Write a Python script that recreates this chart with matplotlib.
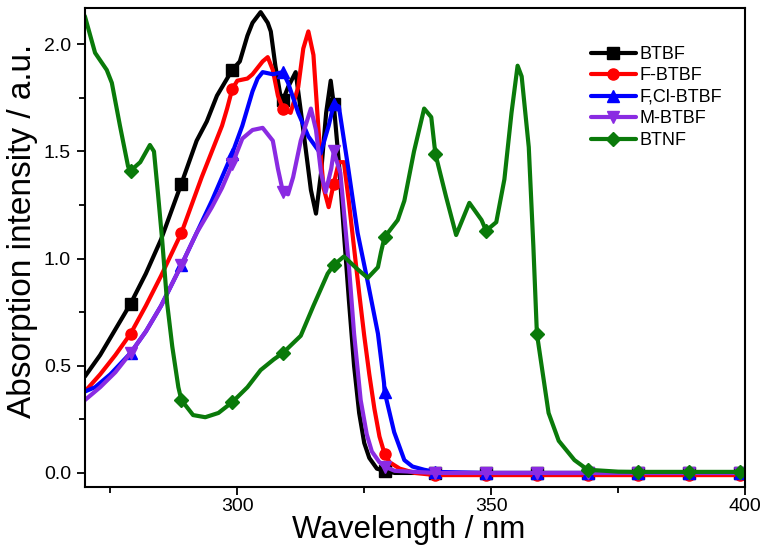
import numpy as np
import matplotlib.pyplot as plt

plt.rcParams['font.family'] = ['Liberation Sans', 'DejaVu Sans']

# wavelengths where the markers sit
marker_wl = [279, 289, 299, 309, 319, 329, 339, 349, 359, 369, 379, 389, 399]

# BTBF
btbf_wl = [270, 273, 276, 279, 282, 285, 289, 292, 294, 296, 299, 300.5, 302, 303, 304.6, 306, 306.6,
           307.5, 308.5, 309, 310, 311.5, 313, 314.5, 315.5, 316.5, 317.5, 318.4, 319, 320, 321, 322,
           323, 324, 325, 326, 327.5, 329, 331, 339, 349, 359, 369, 379, 389, 399, 400]
btbf_abs = [0.45, 0.55, 0.67, 0.79, 0.93, 1.09, 1.35, 1.55, 1.64, 1.76, 1.88, 1.92, 2.04, 2.10, 2.15, 2.10, 2.06,
            1.90, 1.76, 1.74, 1.80, 1.87, 1.60, 1.32, 1.21, 1.40, 1.68, 1.83, 1.72, 1.45, 1.12, 0.80,
            0.50, 0.28, 0.14, 0.07, 0.02, 0.01, 0.0, 0.0, 0.0, 0.0, 0.0, 0.0, 0.0, 0.0, 0.0]

# F-BTBF
fbtbf_wl = [270, 273, 276, 279, 282, 285, 289, 291, 293, 295, 297, 298, 299, 300, 302, 303, 305, 306,
            307, 308, 309, 310.5, 312, 313, 314, 315, 316, 317, 318, 319, 320, 321, 322, 323, 324,
            325, 326, 327, 328, 329, 330, 332, 335, 339, 349, 359, 369, 379, 389, 399, 400]
fbtbf_abs = [0.38, 0.46, 0.55, 0.65, 0.78, 0.92, 1.12, 1.25, 1.38, 1.50, 1.62, 1.70, 1.79, 1.83, 1.84, 1.86, 1.92, 1.94,
             1.88, 1.76, 1.70, 1.68, 1.80, 1.98, 2.06, 1.95, 1.60, 1.33, 1.24, 1.35, 1.45, 1.45, 1.26, 1.05, 0.84,
             0.64, 0.46, 0.30, 0.17, 0.09, 0.05, 0.02, 0.0, -0.01, -0.01, -0.01, -0.01, -0.01, -0.01, -0.01, -0.01]

# F,Cl-BTBF
fcl_wl = [270, 272, 275, 279, 282, 285, 289, 292, 295, 299, 301, 303, 304, 305, 307, 309, 310, 312,
          314, 316.4, 318, 319, 320, 321.8, 323.7, 325.7, 327.7, 328.9, 329, 330.9, 332.9, 334.5, 336.8,
          339, 349, 359, 369, 379, 389, 399, 400]
fcl_abs = [0.38, 0.40, 0.46, 0.56, 0.66, 0.78, 0.97, 1.12, 1.27, 1.49, 1.62, 1.78, 1.84, 1.87, 1.86, 1.87, 1.82, 1.68,
           1.57, 1.49, 1.62, 1.72, 1.71, 1.43, 1.12, 0.89, 0.65, 0.42, 0.38, 0.19, 0.06, 0.03, 0.015,
           0.005, 0.0, 0.0, 0.0, 0.0, 0.0, 0.0, 0.0]

# M-BTBF
mbtbf_wl = [270, 273, 276, 279, 282, 285, 289, 292, 295, 297, 299, 301, 303, 305, 307, 308, 309, 310,
            311, 312.5, 314.5, 315.5, 316.5, 317.4, 318.5, 319, 320.3, 321, 322, 323, 324.3, 325.5,
            326.5, 328, 329, 331, 335, 339, 349, 359, 369, 379, 389, 399, 400]
mbtbf_abs = [0.34, 0.40, 0.47, 0.56, 0.66, 0.78, 0.97, 1.12, 1.24, 1.33, 1.44, 1.56, 1.60, 1.61, 1.55, 1.42, 1.31, 1.30,
             1.38, 1.55, 1.70, 1.60, 1.40, 1.31, 1.42, 1.50, 1.40, 1.22, 0.96, 0.65, 0.34, 0.18,
             0.10, 0.05, 0.03, 0.01, 0.005, 0.0, 0.0, 0.0, 0.0, 0.0, 0.0, 0.0, 0.0]

# BTNF
btnf_wl = [269, 270, 272, 274.3, 275.3, 276.9, 278.5, 279, 280.9, 282.8, 283.6, 284.4, 285.2, 286.2,
           287.2, 288.4, 289, 291.3, 293.7, 296.3, 299, 302, 304.6, 307.2, 309, 312.5, 315, 317.8,
           319, 321, 323.7, 325.7, 327.7, 328.3, 329, 331.6, 332.9, 334.8, 336.8, 338.2, 339, 341.1,
           343.1, 345.7, 348.1, 349, 351, 352.6, 354, 355.2, 356, 357.4, 358.3, 359, 361.3, 363.3,
           366.4, 369, 375, 379, 389, 399, 400]
btnf_abs = [2.17, 2.13, 1.96, 1.88, 1.82, 1.62, 1.43, 1.41, 1.45, 1.53, 1.50, 1.30, 1.09, 0.79,
            0.59, 0.40, 0.34, 0.27, 0.26, 0.28, 0.33, 0.40, 0.48, 0.53, 0.56, 0.64, 0.78, 0.93,
            0.97, 1.01, 0.95, 0.91, 0.96, 1.03, 1.10, 1.18, 1.27, 1.50, 1.70, 1.66, 1.49, 1.29,
            1.11, 1.26, 1.18, 1.13, 1.17, 1.37, 1.68, 1.90, 1.85, 1.52, 1.06, 0.65, 0.28, 0.15,
            0.06, 0.015, 0.006, 0.005, 0.005, 0.005, 0.005]

series = [
    ('BTBF', btbf_wl, btbf_abs, 'black', 's'),
    ('F-BTBF', fbtbf_wl, fbtbf_abs, '#ff0000', 'o'),
    ('F,Cl-BTBF', fcl_wl, fcl_abs, '#0000ff', '^'),
    ('M-BTBF', mbtbf_wl, mbtbf_abs, '#8a2be2', 'v'),
    ('BTNF', btnf_wl, btnf_abs, '#0a7a0a', 'D'),
]

fig = plt.figure(figsize=(7.65, 5.59), dpi=100)
ax = fig.add_axes([0.111, 0.129, 0.863, 0.857])

for name, wl, ab, col, mk in series:
    wl = np.array(wl)
    idx = list(np.where(np.isin(wl, marker_wl))[0])
    ms = 7 if mk == 'D' else 8
    ax.plot(wl, ab, color=col, lw=3, marker=mk, markersize=ms, markevery=idx,
            label=name, solid_joinstyle='round', solid_capstyle='round')

ax.set_xlim(270, 400)
ax.set_ylim(-0.065, 2.17)
ax.set_xticks([300, 350, 400])
ax.set_xticks([275, 325, 375], minor=True)
ax.set_yticks([0.0, 0.5, 1.0, 1.5, 2.0])
ax.set_yticks([0.25, 0.75, 1.25, 1.75], minor=True)
ax.yaxis.set_major_formatter(plt.FormatStrFormatter('%.1f'))
ax.tick_params(which='major', direction='out', length=6, width=1.3, labelsize=14, pad=2)
ax.tick_params(which='minor', direction='out', length=4, width=1.3)
ax.tick_params(axis='y', which='major', pad=4)
for sp in ax.spines.values():
    sp.set_linewidth(1.5)

ax.set_xlabel('Wavelength / nm', fontsize=22.5)
ax.set_ylabel('Absorption intensity / a.u.', fontsize=24)
ax.xaxis.set_label_coords(0.49, -0.058)
ax.yaxis.set_label_coords(-0.071, 0.535)

ax.legend(loc='upper left', bbox_to_anchor=(0.772, 0.918), bbox_transform=fig.transFigure,
          frameon=False, fontsize=13, handlelength=2.5, handletextpad=0.2,
          labelspacing=0.25, borderpad=0, borderaxespad=0)

fig.savefig('out.png', dpi=100)
